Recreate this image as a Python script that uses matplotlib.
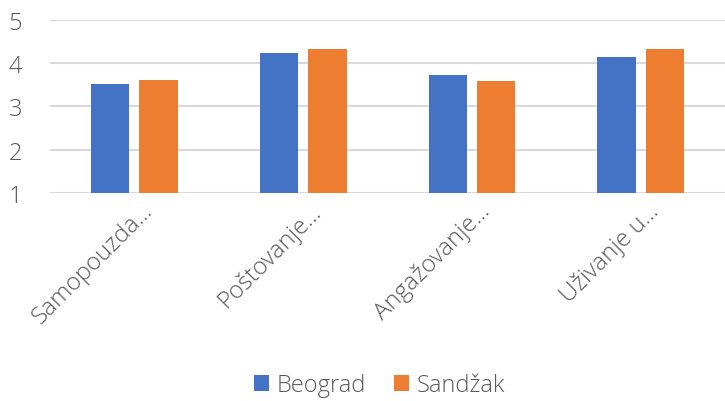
import matplotlib.pyplot as plt
import matplotlib.transforms as mtransforms
import numpy as np

# data
categories = ['Samopouzda...', 'Poštovanje...', 'Angažovanje...', 'Uživanje u...']
beograd = [3.51, 4.22, 3.72, 4.15]
sandzak = [3.60, 4.32, 3.58, 4.32]
series_names = ['Beograd', 'Sandžak']
colors = ['#4472C4', '#ED7D31']

plt.rcParams['font.family'] = ['Open Sans', 'DejaVu Sans']
plt.rcParams['font.weight'] = 'light'
text_color = '#595959'

fig = plt.figure(figsize=(7.25, 4.02), dpi=100)
ax = fig.add_axes([0.069, 0.5174, 0.931, 0.4311])

x = np.arange(len(categories))
w = 0.227
gap = 0.06
ax.bar(x - (w + gap) / 2, beograd, w, bottom=0, color=colors[0], label=series_names[0], zorder=3)
ax.bar(x + (w + gap) / 2, sandzak, w, bottom=0, color=colors[1], label=series_names[1], zorder=3)

ax.set_xlim(-0.5, len(categories) - 0.5)
ax.set_ylim(1, 5)
ax.set_yticks([1, 2, 3, 4, 5])
ax.yaxis.grid(True, color='#d9d9d9', lw=1.5, zorder=0)
for s in ax.spines.values():
    s.set_visible(False)
ax.tick_params(axis='y', length=0, pad=20, labelsize=17, labelcolor=text_color)
ax.tick_params(axis='x', length=0, pad=4, labelsize=17.5, labelcolor=text_color)

ax.set_xticks(x)
ax.set_xticklabels(categories, rotation=45, ha='right', rotation_mode='anchor')
offset = mtransforms.ScaledTranslation(6 / 100, 0, fig.dpi_scale_trans)
for lbl in ax.get_xticklabels():
    lbl.set_transform(lbl.get_transform() + offset)

leg = fig.legend(loc='center', bbox_to_anchor=(0.523, 0.04), ncol=2, frameon=False,
                 fontsize=17, handlelength=0.65, handleheight=0.65, handletextpad=0.3,
                 columnspacing=1.2)
for t in leg.get_texts():
    t.set_color(text_color)

fig.savefig('out.png', dpi=100)
